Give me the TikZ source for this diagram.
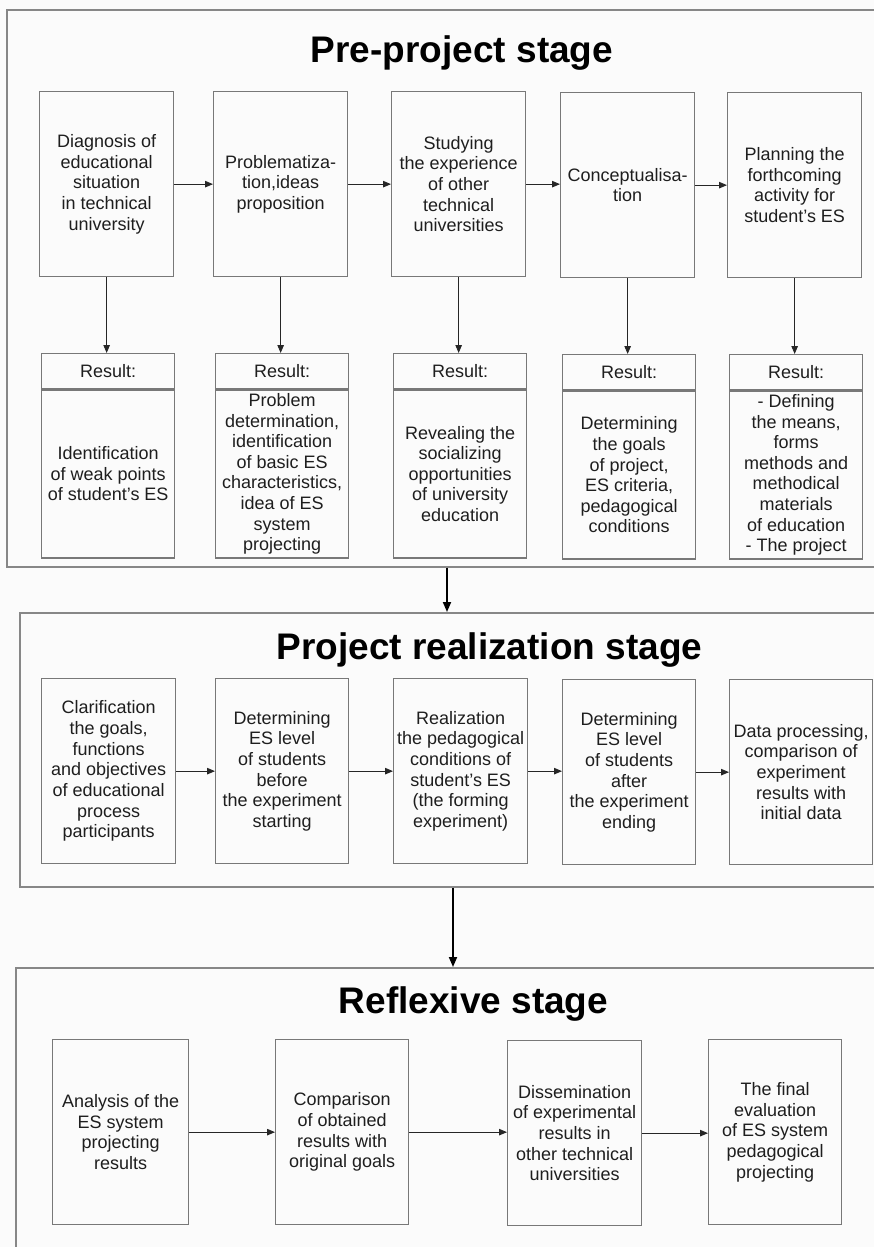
\documentclass[tikz,border=0pt]{standalone}
\usepackage{fontspec}
\setmainfont{Liberation Sans}
\usetikzlibrary{arrows.meta}
\definecolor{bg}{RGB}{251,251,251}
\definecolor{boxgray}{RGB}{120,120,120}
\definecolor{framegray}{RGB}{135,135,135}
\definecolor{txt}{RGB}{30,30,30}
\tikzset{
  stepbox/.style={draw=boxgray, line width=1.3pt, fill=bg, inner sep=0pt, align=center,
    text=txt, font=\fontsize{18}{20.7}\selectfont, anchor=north west, minimum height=185pt},
  headbox/.style={draw=boxgray, line width=1.3pt, fill=bg, inner sep=0pt, align=center,
    text=txt, font=\fontsize{18}{20.7}\selectfont, anchor=north west, minimum width=133pt, minimum height=35pt},
  bodybox/.style={draw=boxgray, line width=1.3pt, fill=bg, inner sep=0pt, align=center,
    text=txt, font=\fontsize{18}{20.6}\selectfont, anchor=north, minimum width=133pt, minimum height=168pt},
  stageframe/.style={draw=framegray, line width=1.6pt, anchor=north west, inner sep=0pt},
  stagetitle/.style={anchor=base, text=black, font=\fontsize{37}{40}\selectfont\bfseries},
  flow/.style={draw=black!85, line width=0.9pt, -{Triangle[length=8pt,width=6.5pt]}},
  bigflow/.style={draw=black, line width=1.8pt, -{Triangle[length=10pt,width=8pt]}}
}
\begin{document}
\begin{tikzpicture}[x=1pt,y=-1pt]
\useasboundingbox (0,0) rectangle (874,1247);
\clip (0,0) rectangle (874,1247);
\fill[bg] (0,0) rectangle (874,1247);

% frames
\node[stageframe, minimum width=880pt, minimum height=557pt] (f1) at (6,9) {};
\node[stageframe, minimum width=870pt, minimum height=274pt] (f2) at (19,612) {};
\node[stageframe, minimum width=870pt, minimum height=300pt] (f3) at (15,967) {};

% titles
\node[stagetitle] (t1) at (462,63) {Pre-project stage};
\node[stagetitle] (t2) at (489.5,659) {Project realization stage};
\node[stagetitle] (t3) at (473.5,1013) {Reflexive stage};

% row 1
\node[stepbox, minimum width=134pt] (a1) at (39,91) {Diagnosis of\\educational\\situation\\in technical\\university};
\node[stepbox, minimum width=134pt] (a2) at (213,91) {Problematiza-\\tion,ideas\\proposition};
\node[stepbox, minimum width=134pt] (a3) at (391,91) {Studying\\the experience\\of other\\technical\\universities};
\node[stepbox, minimum width=134pt] (a4) at (560,92) {Conceptualisa-\\tion};
\node[stepbox, minimum width=134pt] (a5) at (727,92) {Planning the\\forthcoming\\activity for\\student’s ES};

% result boxes
\node[headbox] (h1) at (41,353) {Result:};
\node[headbox] (h2) at (215,353) {Result:};
\node[headbox] (h3) at (393,353) {Result:};
\node[headbox] (h4) at (562,354) {Result:};
\node[headbox] (h5) at (729,354) {Result:};
\node[bodybox] (r1) at (h1.south) {Identification\\of weak points\\of student’s ES};
\node[bodybox] (r2) at (h2.south) {Problem\\determination,\\identification\\of basic ES\\characteristics,\\idea of ES\\system\\projecting};
\node[bodybox] (r3) at (h3.south) {Revealing the\\socializing\\opportunities\\of university\\education};
\node[bodybox] (r4) at (h4.south) {Determining\\the goals\\of project,\\ES criteria,\\pedagogical\\conditions};
\node[bodybox] (r5) at (h5.south) {- Defining\\the means,\\forms\\methods and\\methodical\\materials\\of education\\- The project};

% row 2
\node[stepbox, minimum width=134pt] (b1) at (41,678) {Clarification\\the goals,\\functions\\and objectives\\of educational\\process\\participants};
\node[stepbox, minimum width=133pt] (b2) at (215,678) {Determining\\ES level\\of students\\before\\the experiment\\starting};
\node[stepbox, minimum width=134pt] (b3) at (393,678) {Realization\\the pedagogical\\conditions of\\student’s ES\\(the forming\\experiment)};
\node[stepbox, minimum width=133pt] (b4) at (562,679) {Determining\\ES level\\of students\\after\\the experiment\\ending};
\node[stepbox, minimum width=143pt] (b5) at (729,679) {Data processing,\\comparison of\\experiment\\results with\\initial data};

% row 3
\node[stepbox, minimum width=136pt] (c1) at (52,1039) {Analysis of the\\ES system\\projecting\\results};
\node[stepbox, minimum width=133pt] (c2) at (275,1039) {Comparison\\of obtained\\results with\\original goals};
\node[stepbox, minimum width=134pt] (c3) at (507,1040) {Dissemination\\of experimental\\results in\\other technical\\universities};
\node[stepbox, minimum width=133pt] (c4) at (708,1039) {The final\\evaluation\\of ES system\\pedagogical\\projecting};

% connectors row 1
\draw[flow] (a1.east) -- (a1.east -| a2.west);
\draw[flow] (a2.east) -- (a2.east -| a3.west);
\draw[flow] (a3.east) -- (a3.east -| a4.west);
\draw[flow] (a4.east) -- (a4.east -| a5.west);
\foreach \i in {1,...,5} {
  \draw[flow] (a\i.south) -- (a\i.south |- h\i.north);
}
% connectors row 2
\draw[flow] (b1.east) -- (b1.east -| b2.west);
\draw[flow] (b2.east) -- (b2.east -| b3.west);
\draw[flow] (b3.east) -- (b3.east -| b4.west);
\draw[flow] (b4.east) -- (b4.east -| b5.west);
% connectors row 3
\draw[flow] (c1.east) -- (c1.east -| c2.west);
\draw[flow] (c2.east) -- (c2.east -| c3.west);
\draw[flow] (c3.east) -- (c3.east -| c4.west);

% stage connectors
\coordinate (k1) at (447,0);
\coordinate (k2) at (453,0);
\draw[bigflow] (f1.south -| k1) -- (f2.north -| k1);
\draw[bigflow] (f2.south -| k2) -- (f3.north -| k2);
\end{tikzpicture}
\end{document}
